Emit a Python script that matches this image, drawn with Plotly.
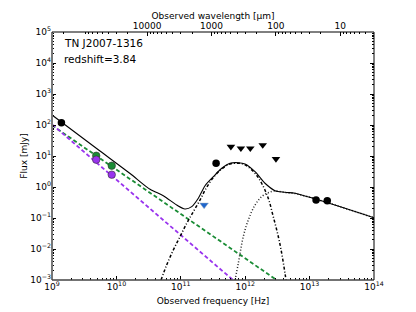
import plotly.graph_objects as go

# ---- data (frequency in Hz, flux in mJy) ----
total_nu = [1.0e9, 5.56e9, 1.63e10, 3.33e10, 5.35e10, 8.63e10, 1.16e11, 1.48e11, 1.87e11,
            2.38e11, 3.20e11, 4.32e11, 5.81e11, 7.82e11, 9.93e11, 1.42e12, 2.03e12, 2.90e12,
            4.15e12, 5.93e12, 8.49e12, 1.29e13, 1.0e14]
total_flux = [210, 14.5, 2.72, 0.843, 0.524, 0.262, 0.195, 0.232, 0.432,
              1.10, 2.15, 4.01, 5.82, 6.08, 5.52, 3.12, 1.32, 0.760,
              0.675, 0.627, 0.513, 0.401, 0.102]

sync_green_nu = [1.0e9, 3.08e12]
sync_green_flux = [98, 0.001]
sync_purple_nu = [1.0e9, 6.46e11]
sync_purple_flux = [105, 0.001]

cold_nu = [4.93e10, 6.04e10, 7.65e10, 9.73e10, 1.236e11, 1.565e11, 1.99e11, 2.46e11, 3.20e11,
           4.32e11, 5.81e11, 7.82e11, 9.93e11, 1.42e12, 1.80e12, 2.28e12, 2.73e12, 3.27e12,
           3.69e12, 4.15e12, 4.30e12]
cold_flux = [0.001, 0.00305, 0.00929, 0.0249, 0.0675, 0.160, 0.381, 0.895, 2.02,
             3.81, 5.52, 5.86, 5.20, 2.77, 1.32, 0.432, 0.110, 0.0249,
             0.00726, 0.00164, 0.001]

warm_nu = [6.95e11, 7.82e11, 9.33e11, 1.117e12, 1.42e12, 1.80e12, 2.28e12, 2.90e12,
           4.15e12, 5.93e12, 8.49e12, 1.29e13, 1.0e14]
warm_flux = [0.001, 0.00346, 0.0249, 0.0861, 0.262, 0.486, 0.655, 0.743,
             0.665, 0.617, 0.513, 0.401, 0.102]

det_nu = [1.40e9, 3.53e11, 1.26e13, 1.88e13]
det_flux = [119, 5.8, 0.381, 0.361]
green_nu = [4.86e9, 8.46e9]
green_flux = [10.2, 4.86]
purple_nu = [4.86e9, 8.46e9]
purple_flux = [7.6, 2.50]
ul_nu = [6.0e11, 8.57e11, 1.2e12, 1.87e12, 3.0e12]
ul_flux = [20, 17.7, 17.7, 22.6, 8.0]
blue_nu = [2.3e11]
blue_flux = [0.263]

y_exps = [-3, -2, -1, 0, 1, 2, 3, 4, 5]
x_exps = [9, 10, 11, 12, 13, 14]
wl_labels = [10000, 1000, 100, 10]
C_UM = 2.998e14  # speed of light in micron/s

GREEN = "#1a8c35"
PURPLE = "#9933ee"
FONT = "DejaVu Sans"

fig = go.Figure()
fig.add_trace(go.Scatter(x=sync_green_nu, y=sync_green_flux, mode="lines",
                         line=dict(color=GREEN, width=1.8, dash="4px,2.5px")))
fig.add_trace(go.Scatter(x=sync_purple_nu, y=sync_purple_flux, mode="lines",
                         line=dict(color=PURPLE, width=1.8, dash="4px,2.5px")))
fig.add_trace(go.Scatter(x=cold_nu, y=cold_flux, mode="lines",
                         line=dict(color="black", width=1.5, dash="3px,2px,1px,2px", shape="spline")))
fig.add_trace(go.Scatter(x=warm_nu, y=warm_flux, mode="lines",
                         line=dict(color="#222", width=1.5, dash="1px,2px", shape="spline")))
fig.add_trace(go.Scatter(x=total_nu, y=total_flux, mode="lines",
                         line=dict(color="black", width=1.1, shape="spline", smoothing=0.8)))
fig.add_trace(go.Scatter(x=det_nu, y=det_flux, mode="markers",
                         marker=dict(color="black", size=7.5, symbol="circle")))
fig.add_trace(go.Scatter(x=green_nu, y=green_flux, mode="markers",
                         marker=dict(color=GREEN, size=7.5, line=dict(color="#333", width=0.6))))
fig.add_trace(go.Scatter(x=purple_nu, y=purple_flux, mode="markers",
                         marker=dict(color=PURPLE, size=7.5, line=dict(color="#333", width=0.6))))
fig.add_trace(go.Scatter(x=ul_nu, y=ul_flux, mode="markers",
                         marker=dict(color="black", size=7.5, symbol="triangle-down")))
fig.add_trace(go.Scatter(x=blue_nu, y=blue_flux, mode="markers",
                         marker=dict(color="#1f66cc", size=7.5, symbol="triangle-down",
                                     line=dict(color="#9ab", width=0.5))))
# invisible trace for top axis
fig.add_trace(go.Scatter(x=[1e9, 1e14], y=[1e-3, 1e-3], xaxis="x2", mode="lines",
                         line=dict(width=0), hoverinfo="skip"))

def sup(e):
    return "10<sup>%s</sup>" % (str(e).replace("-", "−"))

y_minor = [k * 10.0 ** e for e in range(-3, 5) for k in range(2, 10)]
x_minor = [k * 10.0 ** e for e in range(9, 14) for k in range(2, 10)]
wl_minor = [C_UM / (k * 10.0 ** e) for e in range(0, 6) for k in range(2, 10)
            if 1e9 <= C_UM / (k * 10.0 ** e) <= 1e14]

tickfont = dict(family=FONT, size=9, color="black")
fig.update_layout(
    width=416, height=312,
    margin=dict(l=52, r=42, t=32, b=32, autoexpand=False),
    paper_bgcolor="white", plot_bgcolor="white",
    showlegend=False,
    font=dict(family=FONT, size=9, color="black"),
    xaxis=dict(type="log", range=[9, 14], showgrid=False, zeroline=False, showline=False,
               automargin=False,
               tickmode="array", tickvals=[10.0 ** e for e in x_exps],
               ticktext=[sup(e) for e in x_exps],
               ticks="inside", ticklen=4, tickcolor="black", tickfont=tickfont,
               minor=dict(tickmode="array", tickvals=x_minor, ticks="inside", ticklen=2,
                          tickcolor="black"),
               title=dict(text="Observed frequency [Hz]", font=dict(family=FONT, size=9),
                          standoff=6)),
    xaxis2=dict(type="log", range=[9, 14], overlaying="x", side="top", showgrid=False,
                zeroline=False, showline=False, automargin=False,
                tickmode="array", tickvals=[C_UM / w for w in wl_labels],
                ticktext=[str(w) for w in wl_labels],
                ticks="inside", ticklen=4, tickcolor="black", tickfont=tickfont,
                minor=dict(tickmode="array", tickvals=wl_minor, ticks="inside", ticklen=2,
                           tickcolor="black"),
                title=dict(text="Observed wavelength [μm]", font=dict(family=FONT, size=9),
                           standoff=0)),
    yaxis=dict(type="log", range=[-3, 5], showgrid=False, zeroline=False, showline=False,
               mirror="ticks", automargin=False,
               tickmode="array", tickvals=[10.0 ** e for e in y_exps],
               ticktext=[sup(e) for e in y_exps],
               ticks="inside", ticklen=4, tickcolor="black", tickfont=tickfont,
               minor=dict(tickmode="array", tickvals=y_minor, ticks="inside", ticklen=2,
                          tickcolor="black"),
               title=dict(text="Flux [mJy]", font=dict(family=FONT, size=9), standoff=1)),
)

# frame
fig.add_shape(type="line", xref="paper", yref="paper", x0=0, x1=0, y0=0, y1=1,
              line=dict(color="#777", width=2))
fig.add_shape(type="line", xref="paper", yref="paper", x0=0, x1=1, y0=0, y1=0,
              line=dict(color="#444", width=1.5))
fig.add_shape(type="line", xref="paper", yref="paper", x0=1, x1=1, y0=0, y1=1,
              line=dict(color="black", width=1))
fig.add_shape(type="line", xref="paper", yref="paper", x0=0, x1=1, y0=1, y1=1,
              line=dict(color="black", width=1))

fig.add_annotation(text="TN J2007-1316", xref="paper", yref="paper", x=0.03, y=0.955,
                   xanchor="left", yanchor="middle", showarrow=False,
                   font=dict(family=FONT, size=10.5, color="black"))
fig.add_annotation(text="redshift=3.84", xref="paper", yref="paper", x=0.03, y=0.89,
                   xanchor="left", yanchor="middle", showarrow=False,
                   font=dict(family=FONT, size=10.5, color="black"))

fig.write_html("out.html", config={"displayModeBar": False},
               post_script="document.body.style.margin='0';")
